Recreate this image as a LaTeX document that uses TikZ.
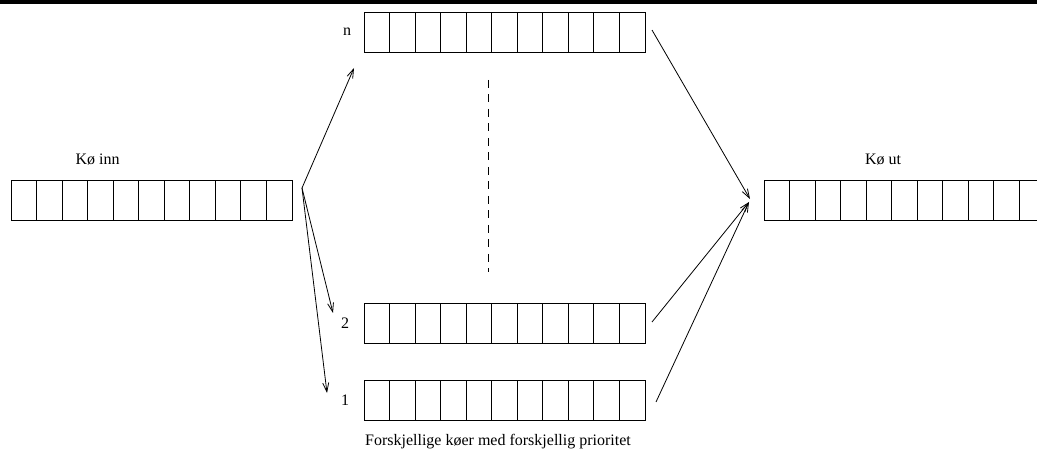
\documentclass[tikz,border=0pt]{standalone}
\usepackage{fontspec}
\setmainfont{Liberation Serif}
\usetikzlibrary{arrows.meta}
\begin{document}
\begin{tikzpicture}[x=1pt,y=-1pt,
  queue/.style={draw, line width=0.9pt, minimum width=281pt, minimum height=40pt, inner sep=0pt,
    path picture={\foreach \i in {1,...,10}{\draw[line width=0.9pt] ([xshift=\i*25.545pt]path picture bounding box.south west) -- ([xshift=\i*25.545pt]path picture bounding box.north west);}}},
  lbl/.style={font=\fontsize{16}{18}\selectfont, inner sep=0pt},
  arr/.style={line width=0.8pt, -{Straight Barb[length=9pt,width=6pt]}}]
\useasboundingbox (0,0) rectangle (1037,457);
\draw[line width=4pt] (0,2) -- (1037,2);
% queues
\node[queue] (qinn) at (151.5,200) {};
\node[queue] (qn) at (504.5,32) {};
\node[queue] (q2) at (504.5,323) {};
\node[queue] (q1) at (504.5,400) {};
\node[queue] (qut) at (904.5,200) {};
% labels
\node[lbl] (linn) at (97.5,160) {Kø inn};
\node[lbl] (lut) at (883,160) {Kø ut};
\node[lbl] (ln) at (347,32) {n};
\node[lbl] (l2) at (345,323) {2};
\node[lbl] (l1) at (345,400) {1};
\node[lbl] (cap) at (498,442) {Forskjellige køer med forskjellig prioritet};
% dashed separator
\coordinate (dtop) at (488,80);
\coordinate (dbot) at (488,272);
\draw[line width=0.9pt, dash pattern=on 8pt off 6.5pt] (dtop) -- (dbot);
% fan out
\coordinate (fo) at (302,188);
\coordinate (ton) at (354,68);
\coordinate (to2) at (333,313);
\coordinate (to1) at (327,393);
\draw[arr] (fo) -- (ton);
\draw[arr] (fo) -- (to2);
\draw[arr] (fo) -- (to1);
% fan in
\coordinate (fi) at (750,199);
\coordinate (fi2) at (749,202);
\coordinate (fromn) at (652,30);
\coordinate (from2) at (652,322);
\coordinate (from1) at (656,402);
\draw[arr] (fromn) -- (fi);
\draw[arr] (from2) -- (fi2);
\draw[arr] (from1) -- (fi2);
\end{tikzpicture}
\end{document}
